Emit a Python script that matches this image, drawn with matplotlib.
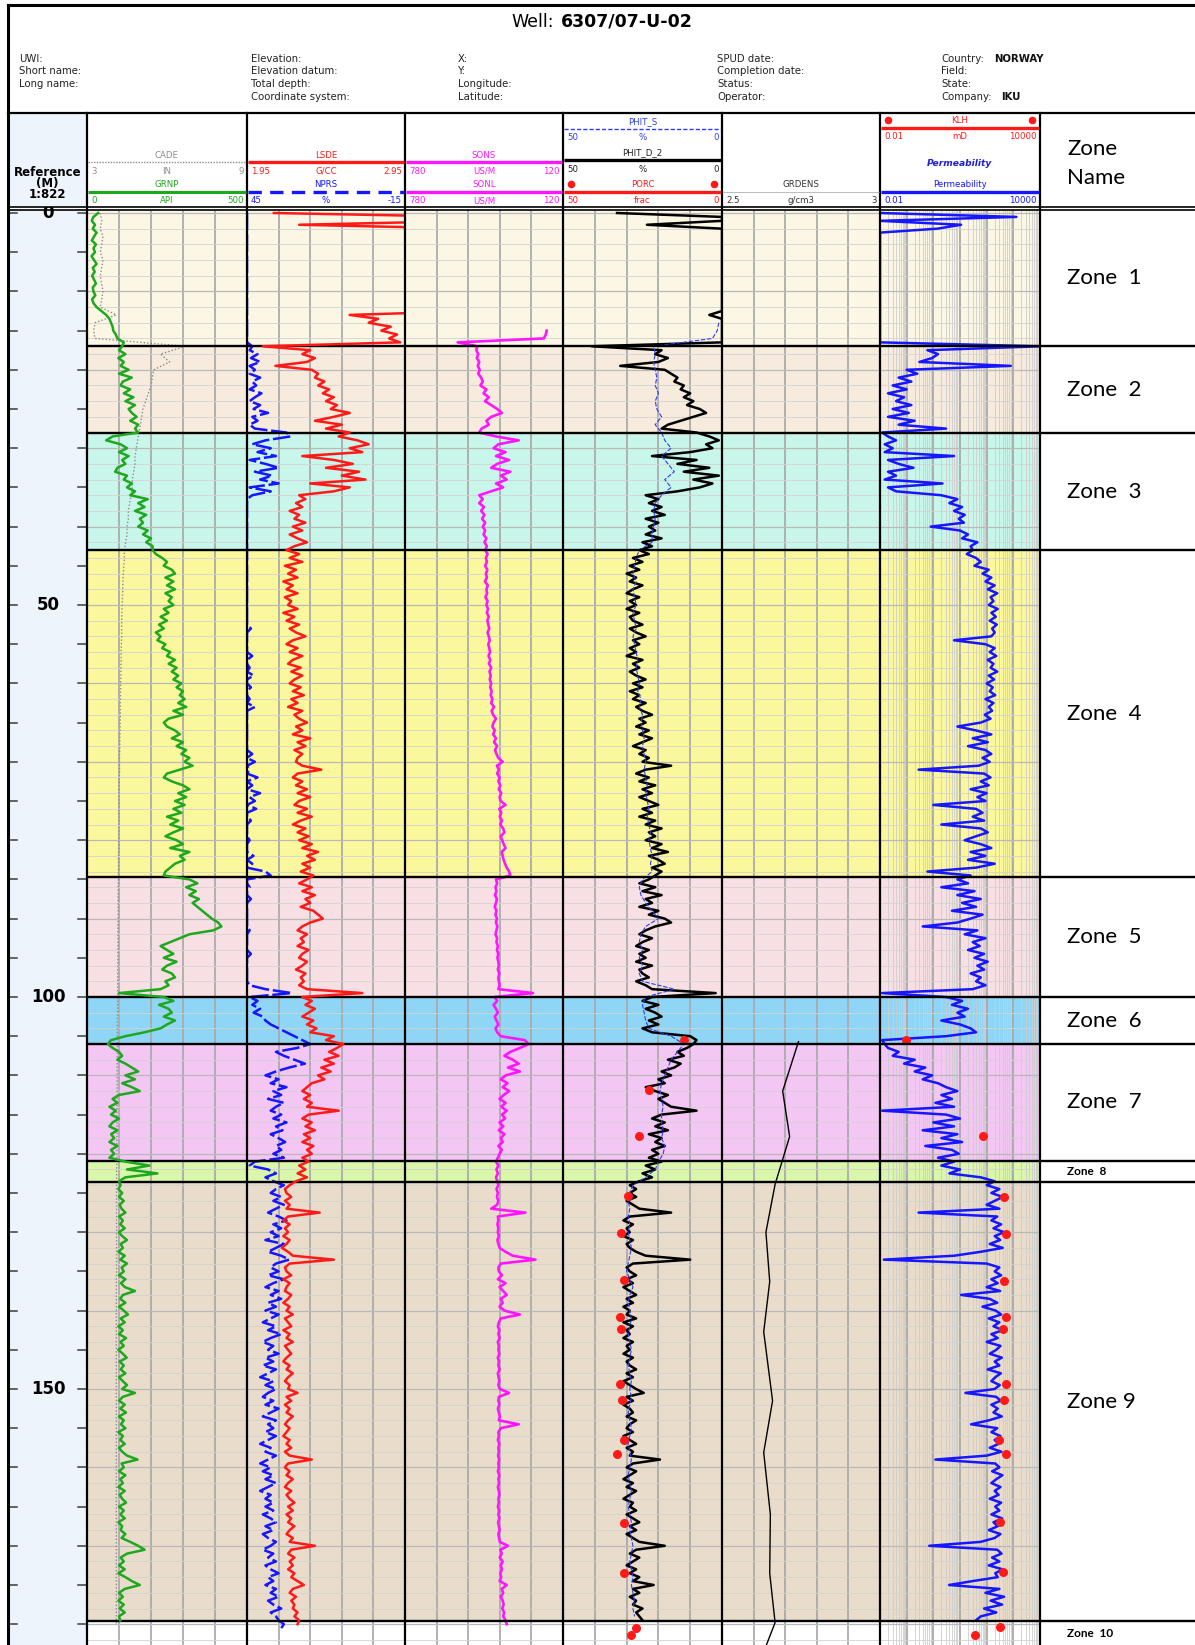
import numpy as np
import matplotlib
matplotlib.use("Agg")
import matplotlib.pyplot as plt
from matplotlib.patches import Rectangle

nan = float("nan")

# ------------------------------------------------------------------ data
WELL_ID = "6307/07-U-02"
INFO_COLUMNS = [
    ["UWI:", "Short name:", "Long name:"],
    ["Elevation:", "Elevation datum:", "Total depth:", "Coordinate system:"],
    ["X:", "Y:", "Longitude:", "Latitude:"],
    ["SPUD date:", "Completion date:", "Status:", "Operator:"],
    ["Country:", "Field:", "State:", "Company:"],
]
INFO_BOLD = {"Country:": "NORWAY", "Company:": "IKU"}

ZONE_NAMES = ["Zone  1", "Zone  2", "Zone  3", "Zone  4", "Zone  5", "Zone  6",
              "Zone  7", "Zone  8", "Zone 9", "Zone  10"]
ZONE_TOPS = [0.0, 17.0, 28.1, 43.0, 84.7, 100.0, 106.0, 120.9, 123.6, 179.6]
ZONE_COLORS = ["#fcf7e4", "#f6ebdc", "#c8f6ea", "#fbf79c", "#f8dfe3",
               "#8fd6f6", "#f3c6f3", "#daf6aa", "#e9dccb", "#ffffff"]
DEPTH_LABELS = [0, 50, 100, 150]

STEP = 0.5      # sampling of the densely sampled logs (m)
STEP_1M = 1.0   # sampling of CADE and PHIT_S (m)

GRNP = [  # API, 0.5 m
    35, 20, 15, 25, 18, 30, 22, 15, 28, 20,
    25, 14, 22, 30, 18, 24, 16, 22, 28, 18,
    20, 26, 16, 20, 30, 45, 60, 70, 75, 80,
    82, 90, 95, 115, 110, 100, 120, 98, 115, 105,
    130, 100, 140, 112, 105, 135, 115, 145, 120, 150,
    130, 140, 155, 135, 160, 150, 160, 80, 60, 105,
    125, 100, 130, 110, 120, 95, 88, 125, 115, 140,
    125, 150, 135, 190, 160, 180, 150, 185, 165, 175,
    160, 190, 175, 200, 185, 205, 205, 215, 235, 250,
    240, 265, 275, 245, 270, 250, 275, 245, 265, 255,
    270, 240, 255, 230, 250, 225, 240, 215, 230, 220,
    245, 235, 260, 250, 275, 255, 280, 265, 285, 270,
    295, 280, 300, 290, 305, 285, 310, 270, 300, 255,
    240, 250, 275, 290, 265, 300, 280, 310, 295, 320,
    305, 330, 290, 250, 240, 265, 300, 320, 285, 310,
    275, 305, 270, 295, 250, 285, 260, 300, 270, 245,
    280, 300, 260, 320, 290, 305, 275, 260, 245, 240,
    320, 345, 310, 340, 320, 350, 330, 345, 360, 375,
    390, 410, 420, 395, 320, 290, 260, 230, 250, 270,
    240, 280, 250, 235, 265, 275, 245, 255, 230, 100,
    240, 270, 225, 255, 265, 240, 275, 250, 230, 180,
    120, 75, 65, 80, 100, 110, 95, 120, 140, 160,
    120, 150, 110, 140, 165, 100, 80, 95, 70, 90,
    75, 100, 80, 70, 95, 75, 85, 70, 95, 75,
    85, 70, 120, 195, 125, 220, 120, 100, 105, 98,
    110, 100, 115, 102, 108, 120, 100, 112, 104, 118,
    100, 110, 125, 105, 112, 98, 118, 104, 125, 108,
    115, 100, 120, 106, 118, 150, 112, 104, 120, 100,
    115, 128, 105, 118, 98, 112, 100, 122, 104, 115,
    98, 112, 124, 102, 115, 105, 120, 100, 112, 125,
    110, 150, 112, 100, 118, 104, 122, 100, 115, 106,
    120, 98, 112, 104, 118, 100, 110, 125, 158, 108,
    115, 100, 120, 104, 112, 98, 118, 102, 110, 122,
    100, 115, 104, 118, 98, 110, 105, 120, 108, 135,
    160, 180, 125, 105, 115, 100, 118, 98, 120, 140,
    165, 118, 100, 112, 98, 115, 102, 118, 100, 104,
]

CADE = [  # inch, 1 m
    3.5, 3.55, 3.5, 3.6, 3.55, 3.5, 3.6, 3.55, 3.5, 3.55,
    3.6, 3.55, 3.5, 4.1, 3.3, 3.25, 3.3, 6.7, 5.75, 6.1,
    5.5, 5.45, 5.4, 5.3, 5.2, 5.1, 5.05, 5.0, 4.95, 4.9,
    4.85, 4.8, 4.8, 4.75, 4.7, 4.7, 4.65, 4.6, 4.55, 4.55,
    4.5, 4.5, 4.45, 4.4, 4.4, 4.38, 4.36, 4.35, 4.34, 4.33,
    4.32, 4.31, 4.3, 4.3, 4.3, 4.29, 4.28, 4.28, 4.27, 4.27,
    4.26, 4.26, 4.25, 4.25, 4.25, 4.24, 4.24, 4.23, 4.23, 4.22,
    4.22, 4.22, 4.21, 4.21, 4.2, 4.2, 4.2, 4.2, 4.2, 4.19,
    4.19, 4.19, 4.18, 4.18, 4.18, 4.18, 4.17, 4.17, 4.17, 4.17,
    4.17, 4.16, 4.16, 4.16, 4.16, 4.16, 4.15, 4.15, 4.15, 4.15,
    4.15, 4.15, 4.15, 4.14, 4.14, 4.14, 4.14, 4.14, 4.13, 4.13,
    4.13, 4.13, 4.13, 4.13, 4.12, 4.12, 4.12, 4.12, 4.12, 4.12,
    4.12, 4.12, 4.11, 4.11, 4.11, 4.11, 4.11, 4.11, 4.11, 4.11,
    4.11, 4.11, 4.11, 4.11, 4.11, 4.11, 4.1, 4.1, 4.1, 4.1,
    4.1, 4.1, 4.1, 4.1, 4.1, 4.1, 4.1, 4.1, 4.1, 4.1,
    4.1, 4.1, 4.1, 4.1, 4.1, 4.1, 4.1, 4.1, 4.1, 4.1,
    4.1, 4.1, 4.1, 4.1, 4.1, 4.1, 4.1, 4.1, 4.1, 4.1,
    4.1, 4.1, 4.1, 4.1, 4.1, 4.1, 4.1, 4.1, 4.1, 4.1,
    4.1,
]

LSDE = [  # g/cc, 0.5 m (values above 2.95 run off the track)
    2.12, 3.4, 3.4, 2.28, 3.4, 3.4, 3.4, 3.4, 3.4, 3.4,
    3.4, 3.4, 3.4, 3.4, 3.4, 3.4, 3.4, 3.4, 3.4, 3.4,
    3.4, 3.4, 3.4, 3.4, 3.4, 3.4, 2.6, 2.78, 2.72, 2.86,
    2.8, 2.9, 2.85, 2.92, 2.05, 2.35, 2.3, 2.38, 2.33, 2.13,
    2.36, 2.4, 2.38, 2.44, 2.4, 2.47, 2.43, 2.5, 2.45, 2.52,
    2.48, 2.6, 2.5, 2.38, 2.55, 2.45, 2.6, 2.53, 2.65, 2.72,
    2.6, 2.68, 2.3, 2.5, 2.62, 2.45, 2.66, 2.55, 2.7, 2.35,
    2.6, 2.5, 2.28, 2.32, 2.26, 2.3, 2.22, 2.28, 2.25, 2.32,
    2.24, 2.3, 2.22, 2.27, 2.33, 2.25, 2.2, 2.28, 2.22, 2.3,
    2.19, 2.26, 2.21, 2.27, 2.18, 2.24, 2.2, 2.27, 2.19, 2.23,
    2.21, 2.27, 2.18, 2.25, 2.2, 2.28, 2.22, 2.26, 2.32, 2.24,
    2.2, 2.27, 2.22, 2.3, 2.24, 2.21, 2.29, 2.23, 2.3, 2.25,
    2.22, 2.29, 2.24, 2.31, 2.23, 2.27, 2.21, 2.3, 2.25, 2.28,
    2.33, 2.26, 2.3, 2.24, 2.35, 2.27, 2.32, 2.25, 2.3, 2.27,
    2.26, 2.3, 2.42, 2.27, 2.24, 2.3, 2.26, 2.33, 2.27, 2.35,
    2.28, 2.25, 2.33, 2.27, 2.36, 2.29, 2.24, 2.32, 2.27, 2.34,
    2.28, 2.36, 2.3, 2.4, 2.33, 2.38, 2.3, 2.35, 2.29, 2.37,
    2.33, 2.28, 2.36, 2.3, 2.38, 2.32, 2.35, 2.29, 2.37, 2.4,
    2.43, 2.35, 2.3, 2.27, 2.33, 2.29, 2.31, 2.27, 2.34, 2.3,
    2.28, 2.33, 2.3, 2.26, 2.32, 2.29, 2.31, 2.28, 2.33, 2.68,
    2.3, 2.36, 2.32, 2.38, 2.34, 2.3, 2.37, 2.33, 2.39, 2.35,
    2.5, 2.45, 2.56, 2.52, 2.47, 2.53, 2.44, 2.5, 2.42, 2.48,
    2.4, 2.44, 2.36, 2.33, 2.3, 2.35, 2.31, 2.36, 2.33, 2.53,
    2.34, 2.3, 2.36, 2.32, 2.38, 2.31, 2.35, 2.3, 2.37, 2.33,
    2.36, 2.3, 2.34, 2.28, 2.32, 2.27, 2.33, 2.26, 2.22, 2.19,
    2.2, 2.23, 2.19, 2.22, 2.2, 2.41, 2.21, 2.18, 2.22, 2.19,
    2.21, 2.18, 2.22, 2.2, 2.17, 2.21, 2.24, 2.5, 2.22, 2.19,
    2.2, 2.23, 2.18, 2.22, 2.2, 2.19, 2.23, 2.21, 2.18, 2.22,
    2.2, 2.24, 2.19, 2.21, 2.23, 2.18, 2.22, 2.2, 2.24, 2.19,
    2.21, 2.23, 2.2, 2.18, 2.22, 2.2, 2.24, 2.21, 2.19, 2.22,
    2.21, 2.27, 2.2, 2.23, 2.19, 2.22, 2.2, 2.24, 2.21, 2.19,
    2.22, 2.2, 2.18, 2.22, 2.2, 2.23, 2.19, 2.22, 2.36, 2.21,
    2.19, 2.22, 2.2, 2.24, 2.21, 2.19, 2.23, 2.2, 2.22, 2.25,
    2.21, 2.24, 2.2, 2.23, 2.21, 2.25, 2.22, 2.2, 2.24, 2.22,
    2.38, 2.23, 2.21, 2.25, 2.22, 2.24, 2.21, 2.25, 2.23, 2.27,
    2.31, 2.24, 2.22, 2.26, 2.23, 2.25, 2.24, 2.27, 2.25, 2.28,
    2.27,
]

NPRS = [  # %, 0.5 m
    45, 45, 45, 45, 45, 45, 45, 45, 45, 45,
    45, 45, 45, 45, 45, 45, 45, 45, 45, 45,
    45, 45, 45, 45, 45, 45, 45, 45, 45, 45,
    45, 45, 45, 45, 43, 44, 41, 43.5, 40, 44,
    42, 44, 40, 43, 41.5, 44, 39.5, 42, 44, 40,
    42.5, 37, 43, 41, 44, 42, 30, 28.5, 38, 43,
    36, 41, 34, 44, 38, 33, 42, 35.5, 40, 33,
    44, 36, 43, 45, 45, 45, 45, 45, 45, 45,
    45, 45, 45, 45, 45, 45, 45, 45, 45, 45,
    45, 45, 45, 45, 45, 45, 45, 45, 45, 45,
    45, 45, 45, 45, 45, 45, 43.5, 45, 45, 45,
    45, 45, 45, 43, 45, 45, 44, 45, 42.5, 45,
    45, 43.5, 45, 45, 44, 45, 42, 45, 45, 45,
    45, 45, 45, 45, 45, 45, 45, 45, 43, 45,
    42, 45, 44, 45, 41, 45, 43, 45, 40, 44,
    42, 45, 41.5, 45, 45, 43.5, 45, 45, 45, 45,
    44, 45, 45, 45, 42.5, 45, 43, 45, 38, 36,
    45, 45, 44, 45, 45, 43.5, 45, 45, 45, 45,
    45, 45, 45, 44, 45, 45, 45, 45, 45, 43.5,
    45, 45, 45, 45, 45, 45, 45, 44, 38, 28,
    44, 41, 43, 40, 42.5, 39, 38, 36, 33, 30,
    27, 24, 21, 26, 34, 31, 27, 23, 29, 34,
    38, 33, 36, 30, 35, 32, 37, 31, 34, 36,
    32, 35, 30, 34, 31.5, 36, 33, 30.5, 34, 32,
    35, 31, 42, 44, 37, 34, 38, 35, 31, 34,
    36, 32, 35, 31, 34, 37, 33, 30, 35, 32,
    36, 33, 38, 31, 34, 37, 32, 29, 34, 36,
    33, 37, 31, 35, 38, 33, 36, 32, 37, 34,
    38, 33, 36, 39, 34, 37, 32, 36, 39, 35,
    37, 33, 38, 35, 39, 34, 37, 40, 35, 38,
    34, 37, 39, 35, 38, 33, 36, 39, 34, 37,
    35, 38, 34, 37, 40, 36, 38, 34, 37, 40,
    36, 39, 35, 38, 34, 37, 40, 36, 38, 35,
    38, 35, 39, 36, 34, 38, 35, 39, 37, 34,
    36, 39, 35, 37, 34, 38, 36, 33, 37, 35,
    38, 34, 36, 33, 37, 35, 32, 36, 34, 33,
    31, 32,
]

SONS = [  # us/m, 0.5 m
    nan, nan, nan, nan, nan, nan, nan, nan, nan, nan,
    nan, nan, nan, nan, nan, nan, nan, nan, nan, nan,
    nan, nan, nan, nan, nan, nan, nan, nan, nan, nan,
    188, 192, 200, 560, 478, 482, 474, 480, 470, 476,
    468, 474, 462, 455, 465, 440, 452, 430, 446, 420,
    395, 375, 420, 440, 430, 460, 470, 400, 305, 390,
    410, 360, 400, 345, 395, 420, 340, 380, 355, 400,
    370, 420, 470, 455, 470, 450, 462, 448, 458, 445,
    455, 445, 452, 440, 448, 438, 445, 435, 442, 438,
    445, 436, 442, 438, 446, 434, 440, 437, 444, 435,
    440, 433, 438, 430, 436, 432, 428, 435, 430, 426,
    432, 428, 425, 431, 424, 429, 420, 427, 422, 426,
    420, 424, 418, 422, 415, 420, 408, 418, 412, 400,
    410, 415, 405, 412, 400, 408, 395, 404, 398, 390,
    372, 396, 388, 395, 385, 390, 382, 388, 378, 385,
    380, 360, 386, 378, 384, 375, 382, 370, 365, 380,
    374, 368, 360, 376, 372, 368, 362, 355, 345, 340,
    400, 395, 402, 398, 404, 396, 400, 405, 398, 402,
    396, 400, 394, 398, 402, 395, 398, 392, 396, 390,
    394, 390, 388, 392, 386, 390, 388, 385, 390, 245,
    405, 395, 410, 400, 392, 405, 398, 390, 402, 395,
    380, 280, 263, 300, 340, 365, 330, 305, 350, 300,
    360, 380, 352, 372, 345, 368, 385, 360, 378, 355,
    375, 362, 385, 370, 388, 365, 380, 372, 390, 376,
    385, 392, 400, 390, 398, 392, 400, 394, 390, 398,
    392, 396, 390, 395, 420, 277, 392, 390, 394, 390,
    392, 388, 394, 390, 385, 360, 330, 235, 380, 390,
    388, 375, 392, 360, 385, 370, 355, 380, 372, 385,
    365, 300, 380, 388, 392, 386, 390, 385, 392, 388,
    390, 386, 392, 388, 390, 385, 392, 389, 386, 390,
    384, 345, 388, 390, 386, 392, 388, 384, 388, 305,
    380, 390, 388, 392, 386, 390, 388, 391, 387, 390,
    388, 392, 386, 390, 387, 392, 388, 386, 390, 388,
    392, 387, 390, 386, 391, 388, 385, 390, 387, 384,
    350, 382, 376, 384, 372, 380, 375, 382, 378, 385,
    355, 376, 370, 380, 372, 368, 374, 366, 370, 360,
    355,
]

PHIT_D_2 = [  # %, 0.5 m
    33, 0, 0, 23.6, 0, 0, 0, 0, 0, 0,
    0, 0, 0, 0, 0, 0, 0, 0, 0, 0,
    0, 0, 0, 0, 0, 0, 4, 0, 0, 0,
    0, 0, 0, 0, 41, 19, 21, 17, 20, 32,
    18, 16, 14, 15, 12, 13, 10, 12, 9, 11,
    7, 5, 9, 13, 17, 19, 8, 4, 1, 5,
    3, 10, 22, 8, 14, 4, 12, 1, 9, 3,
    7, 14, 24, 20, 23, 19, 22, 18, 24, 20,
    23, 21, 24, 19, 25, 22, 26, 23, 28, 25,
    29, 26, 30, 27, 29, 25, 28, 30, 26, 29,
    27, 30, 26, 29, 28, 25, 29, 27, 24, 28,
    26, 29, 27, 30, 25, 28, 26, 29, 27, 24,
    28, 25, 29, 26, 28, 24, 27, 25, 22, 26,
    24, 27, 23, 26, 22, 25, 28, 24, 26, 23,
    25, 16, 24, 27, 23, 26, 21, 25, 22, 26,
    23, 20, 25, 22, 26, 21, 24, 19, 23, 21,
    24, 19, 22, 17, 23, 20, 18, 22, 19, 21,
    23, 26, 21, 25, 19, 24, 22, 26, 20, 23,
    18, 16, 21, 24, 26, 22, 25, 27, 23, 26,
    24, 27, 22, 26, 25, 23, 27, 24, 22, 2,
    22, 25, 20, 24, 21, 19, 23, 20, 25, 22,
    10, 8, 9, 11, 14, 12, 17, 13, 15, 19,
    16, 20, 18, 24, 21, 17, 20, 18, 16, 8,
    19, 22, 18, 21, 17, 23, 19, 21, 18, 22,
    20, 23, 19, 24, 21, 25, 22, 26, 29, 27,
    29, 27, 30, 28, 26, 16, 29, 31, 28, 30,
    29, 31, 28, 30, 29, 27, 24, 10, 28, 30,
    29, 27, 30, 28, 31, 29, 27, 30, 28, 31,
    29, 30, 27, 31, 28, 30, 29, 31, 28, 30,
    29, 31, 28, 30, 29, 27, 30, 28, 31, 29,
    27, 24.6, 30, 28, 31, 29, 28, 30, 27, 29,
    30, 28, 31, 29, 27, 30, 28, 29, 19.5, 28,
    30, 27, 29, 31, 28, 30, 27, 29, 31, 28,
    29, 27, 30, 28, 26, 29, 27, 30, 28, 26,
    18, 27, 29, 26, 28, 30, 27, 29, 26, 28,
    21.5, 28, 26, 29, 27, 28, 25, 27, 26, 25,
]

PHIT_S = [  # %, 1 m
    nan, nan, nan, nan, nan, nan, nan, nan, nan, nan,
    nan, nan, nan, nan, 1.0, 1.5, 3.0, 21.5, 21.0, 21.5,
    21, 20.5, 21, 20, 21, 20.5, 19, 21, 19, 18,
    16, 19, 17, 15, 18, 16, 19, 21, 21.5, 21,
    21.5, 22, 22, 26, 27, 27.5, 28, 27, 28, 27.5,
    27, 28, 27.5, 27, 28, 27.5, 27, 26.5, 27, 26.5,
    26, 26.5, 25.5, 26, 25, 25.5, 25, 24.5, 25, 24.5,
    24, 24.5, 24, 23.5, 24, 23.5, 23, 23.5, 23, 22.5,
    23, 22.5, 22, 22.5, 22, 25, 26, 25.5, 24, 22,
    20, 24, 25.5, 26, 25, 26, 25, 26, 25, 15,
    24, 25, 24.5, 24, 23, 16, 12, 14, 16, 17,
    18, 19, 19.5, 19, 18.5, 19, 19, 18.5, 19, 18,
    18.5, 20, 21, 24, 28, 29, 29.5, 29, 29.5, 29,
    29.5, 29, 28.5, 29, 29.5, 30, 29, 28, 29, 29.5,
    29, 28.5, 29, 29.5, 29, 28.5, 29, 29.5, 29, 28.5,
    29, 28.5, 29, 29.5, 29, 28.5, 29, 29.5, 29, 28.5,
    29, 29.5, 29, 28.5, 29, 29.5, 29, 28.5, 29, 28.5,
    28, 28.5, 29, 28.5, 28, 28.5, 28, 27.5, 28, 27.5,
]

PORC_DEPTH = [105.5, 111.9, 117.7, 125.4, 130.1, 136.1, 140.8, 142.3,
              149.3, 151.4, 156.5, 158.3, 167.1, 173.5, 180.5, 181.4]
PORC = [12.1, 23.0, 26.0, 29.6, 31.7, 30.9, 32.0, 31.7,
        32.0, 31.4, 30.9, 33.0, 30.9, 30.9, 27.0, 28.6]

GRDENS_DEPTH = [105.7, 112.0, 117.8, 123.9, 130.0, 136.3, 142.7, 151.5,
                158.1, 166.0, 173.5, 179.8, 182.7]
GRDENS = [2.742, 2.692, 2.714, 2.668, 2.639, 2.651, 2.632, 2.660,
          2.632, 2.653, 2.651, 2.668, 2.640]

PERM = [  # mD, 0.5 m
    0.01, 1300, 0.01, 11, 1.4, 0.01, 0.01, 0.01, 0.01, 0.01,
    0.01, 0.01, 0.01, 0.01, 0.01, 0.01, 0.01, 0.01, 0.01, 0.01,
    0.01, 0.01, 0.01, 0.01, 0.01, 0.01, 0.01, 0.01, 0.01, 0.01,
    0.01, 0.01, 0.01, 0.01, 10000, 0.6, 1.5, 0.9, 0.3, 800,
    0.1, 0.25, 0.05, 0.15, 0.03, 0.1, 0.02, 0.08, 0.04, 0.15,
    0.03, 0.12, 0.02, 0.2, 0.05, 3, 0.012, 0.02, 0.04, 0.015,
    0.03, 0.015, 6, 0.02, 0.05, 0.18, 0.02, 0.04, 0.015, 2.2,
    0.02, 0.04, 2, 8, 4, 12, 6, 15, 9, 14,
    0.8, 10, 20, 12, 45, 25, 30, 18, 40, 60,
    35, 120, 70, 150, 90, 200, 110, 250, 140, 180,
    120, 260, 150, 220, 130, 240, 160, 200, 150, 6,
    90, 200, 130, 230, 110, 180, 140, 250, 120, 190,
    100, 170, 130, 210, 90, 180, 120, 160, 85, 140,
    60, 8, 40, 150, 30, 110, 20, 90, 150, 70,
    130, 50, 0.28, 80, 140, 60, 120, 25, 100, 45,
    90, 1, 40, 70, 30, 80, 2, 60, 110, 40,
    15, 60, 150, 25, 90, 20, 200, 40, 0.6, 25,
    8, 20, 2, 35, 8, 60, 12, 40, 5, 70,
    25, 8, 0.4, 45, 15, 90, 30, 55, 20, 80,
    35, 110, 45, 80, 25, 60, 40, 90, 30, 0.012,
    3, 12, 5, 20, 8, 15, 2, 10, 25, 40,
    3, 0.012, 0.015, 0.02, 0.05, 0.03, 0.2, 0.08, 0.5, 0.2,
    0.9, 0.4, 1.5, 3, 8, 2, 5, 1.2, 6, 0.012,
    3, 10, 1, 6, 0.4, 8, 2, 12, 0.5, 5,
    9, 1.5, 6, 2, 10, 4, 60, 200, 100, 300,
    150, 400, 200, 100, 300, 0.28, 250, 150, 350, 180,
    450, 200, 320, 130, 400, 60, 6, 0.014, 100, 300,
    200, 350, 150, 260, 100, 320, 11, 130, 250, 70,
    220, 350, 120, 300, 180, 400, 150, 260, 100, 330,
    230, 130, 370, 200, 300, 110, 340, 210, 150, 310,
    200, 16, 230, 330, 150, 260, 180, 370, 120, 26,
    250, 150, 330, 200, 280, 130, 360, 100, 1.2, 210,
    300, 160, 390, 230, 150, 330, 200, 280, 130, 350,
    210, 300, 150, 380, 180, 260, 120, 330, 200, 60,
    0.7, 250, 360, 160, 300, 120, 400, 210, 260, 30,
    3.9, 300, 90, 450, 140, 380, 80, 230, 60, 40,
]

KLH_DEPTH = [105.5, 117.7, 125.5, 130.2, 136.2, 140.8, 142.3, 149.3,
             151.4, 156.5, 158.3, 167.0, 173.4, 180.4, 181.4]
KLH = [0.096, 75, 430, 525, 430, 525, 400, 525,
       430, 300, 525, 330, 410, 320, 35]

# ------------------------------------------------------------------ layout
W, H = 1195, 1645
PX_PER_M = 7.84
Y_DEPTH0 = 213.0
Y_DATA_TOP = 210.0
D_TOP = (Y_DATA_TOP - Y_DEPTH0) / PX_PER_M
D_BOT = (H - Y_DEPTH0) / PX_PER_M
TRACK_X = [87, 247, 405, 563, 722, 880, 1040]

GREEN = "#1ea81e"
RED = "#ff1a1a"
BLUE = "#1616ff"
BLUE_T = "#2f3cf0"
MAG = "#ff16ff"
GRAY = "#8c8c8c"

fig = plt.figure(figsize=(W / 100, H / 100), dpi=100)
fig.patch.set_facecolor("white")


def frac_rect(x0, y0, x1, y1):
    return [x0 / W, 1 - y1 / H, (x1 - x0) / W, (y1 - y0) / H]


def clean(ax):
    for s in ax.spines.values():
        s.set_visible(False)
    ax.tick_params(which="both", bottom=False, top=False, left=False, right=False,
                   labelbottom=False, labeltop=False, labelleft=False, labelright=False)


def depths(values, step):
    return np.arange(len(values)) * step


def zone_spans():
    tops = [D_TOP] + ZONE_TOPS[1:]
    bots = ZONE_TOPS[1:] + [D_BOT]
    return list(zip(tops, bots, ZONE_COLORS))


def hgrid(ax):
    for d in np.arange(0, D_BOT, 2):
        ax.axhline(d, color="#d3d3d3", lw=0.6, zorder=1)
    for d in np.arange(0, D_BOT, 10):
        ax.axhline(d, color="#b9b9b9", lw=0.9, zorder=1)


def boundaries(ax):
    for t in ZONE_TOPS[1:]:
        ax.axhline(t, color="black", lw=1.7, zorder=6)


def track(i, xlim, log=False):
    ax = fig.add_axes(frac_rect(TRACK_X[i], Y_DATA_TOP, TRACK_X[i + 1], H))
    if log:
        ax.set_xscale("log")
    ax.set_xlim(*xlim)
    ax.set_ylim(D_BOT, D_TOP)
    clean(ax)
    for t, b, c in zone_spans():
        ax.axhspan(t, b, color=c, lw=0, zorder=0)
    if log:
        lo, hi = np.log10(xlim[0]), np.log10(xlim[1])
        for e in range(int(lo), int(hi)):
            for m in range(2, 10):
                ax.axvline(m * 10.0 ** e, color="#cdcdcd", lw=0.6, zorder=1)
        for e in range(int(lo) + 1, int(hi)):
            ax.axvline(10.0 ** e, color="#a9a9a9", lw=1.3, zorder=1)
    else:
        for x in np.linspace(xlim[0], xlim[1], 6)[1:-1]:
            ax.axvline(x, color="#ababab", lw=1.3, zorder=1)
    hgrid(ax)
    boundaries(ax)
    return ax


def twin(ax, xlim):
    t = ax.twiny()
    t.set_xlim(*xlim)
    t.set_ylim(D_BOT, D_TOP)
    clean(t)
    return t


# Track 1: CADE + GRNP
ax1 = track(0, (3, 9))
ax1.plot(CADE, depths(CADE, STEP_1M), color=GRAY, lw=1.0, ls=(0, (1, 1.5)), zorder=3)
ax1g = twin(ax1, (0, 500))
ax1g.plot(GRNP, depths(GRNP, STEP), color=GREEN, lw=1.8, zorder=4)

# Track 2: NPRS + LSDE
ax2 = track(1, (45, -15))
ax2.plot(NPRS, depths(NPRS, STEP), color=BLUE, lw=1.8, ls=(0, (7, 1.5)), zorder=3)
ax2r = twin(ax2, (1.95, 2.95))
ax2r.plot(LSDE, depths(LSDE, STEP), color=RED, lw=1.8, zorder=4)

# Track 3: SONS
ax3 = track(2, (780, 120))
ax3.plot(SONS, depths(SONS, STEP), color=MAG, lw=1.9, zorder=4)

# Track 4: porosity
ax4 = track(3, (50, 0))
ax4.plot(PHIT_D_2, depths(PHIT_D_2, STEP), color="black", lw=1.8, zorder=3)
ax4.plot(PHIT_S, depths(PHIT_S, STEP_1M), color=BLUE_T, lw=0.8, ls=(0, (4, 1.5)), zorder=4)
ax4.plot(PORC, PORC_DEPTH, "o", color=RED, ms=6.5, mec="none", zorder=5)

# Track 5: GRDENS
ax5 = track(4, (2.5, 3.0))
ax5.plot(GRDENS, GRDENS_DEPTH, color="black", lw=1.0, zorder=4)

# Track 6: permeability
ax6 = track(5, (0.01, 10000), log=True)
ax6.plot(PERM, depths(PERM, STEP), color=BLUE, lw=1.8, zorder=3)
ax6.plot(KLH, KLH_DEPTH, "o", color=RED, ms=6.5, mec="none", zorder=5)

# Depth column
axd = fig.add_axes(frac_rect(8, Y_DATA_TOP, TRACK_X[0], H))
axd.set_xlim(8, TRACK_X[0])
axd.set_ylim(D_BOT, D_TOP)
axd.set_facecolor("#eef4fb")
clean(axd)
for d in np.arange(0, D_BOT, 5):
    axd.plot([8, 17], [d, d], color="#3c3c3c", lw=1.1)
    axd.plot([78, 87], [d, d], color="#3c3c3c", lw=1.1)
for d in DEPTH_LABELS:
    axd.text(48, d, str(d), ha="center", va="center", fontsize=12,
             fontweight="bold", clip_on=False)

# Zone name column
axz = fig.add_axes(frac_rect(TRACK_X[-1], Y_DATA_TOP, W, H))
axz.set_xlim(TRACK_X[-1], W)
axz.set_ylim(D_BOT, D_TOP)
axz.set_facecolor("white")
clean(axz)
boundaries(axz)
for (t, b, c), name in zip(zone_spans(), ZONE_NAMES):
    thin = (b - t) < 4
    axz.text(1067, (t + b) / 2, name, ha="left", va="center",
             fontsize=8.5 if thin else 16, fontweight="bold" if thin else "normal",
             family="Lato")

# ------------------------------------------------------------------ header overlay
ov = fig.add_axes([0, 0, 1, 1])
ov.set_zorder(10)
ov.set_xlim(0, W)
ov.set_ylim(H, 0)
ov.axis("off")

ov.add_patch(Rectangle((8, 113), TRACK_X[0] - 8, 94, color="#eef4fb", lw=0, zorder=0))
K = "black"
ov.plot([8, W], [5, 5], color=K, lw=2.2)
ov.plot([8, 8], [5, H], color=K, lw=2.2)
ov.plot([8, W], [113, 113], color=K, lw=1.6)
ov.plot([8, W], [206.5, 206.5], color=K, lw=1.2)
ov.plot([8, W], [210, 210], color=K, lw=1.2)
for x in TRACK_X:
    ov.plot([x, x], [113, H], color=K, lw=1.6)

ov.text(554, 22, "Well:", ha="right", va="center", fontsize=12.5)
ov.text(561, 22, WELL_ID, ha="left", va="center", fontsize=12.5, fontweight="bold")

INFO_X = [19, 251, 458, 717, 941]
INFO_Y = [59, 71.5, 84, 96.5]
for x, col in zip(INFO_X, INFO_COLUMNS):
    for y, label in zip(INFO_Y, col):
        ov.text(x, y, label, ha="left", va="center", fontsize=7.3, color="#222222")
        if label in INFO_BOLD:
            off = 53 if label == "Country:" else 60
            ov.text(x + off, y, INFO_BOLD[label], ha="left", va="center",
                    fontsize=7.3, fontweight="bold", color="#111111")


def group(x0, x1, y, name, col, lo, unit, hi, line=None, dots=False, fs=6.2):
    cx = (x0 + x1) / 2
    ov.text(cx, y, name, color=col, ha="center", va="center", fontsize=fs)
    if line is not None:
        ls, lw, lc = line
        ov.plot([x0 + 1, x1 - 1], [y + 7, y + 7], color=lc, lw=lw, ls=ls,
                solid_capstyle="butt")
        if dots:
            ov.plot([x0 + 8, x1 - 8], [y - 1, y - 1], "o", color=lc, ms=5.5, mec="none")
    ov.text(x0 + 4, y + 16, lo, color=col, ha="left", va="center", fontsize=fs)
    ov.text(cx, y + 16, unit, color=col, ha="center", va="center", fontsize=fs)
    ov.text(x1 - 3, y + 16, hi, color=col, ha="right", va="center", fontsize=fs)


X = TRACK_X
group(X[0], X[1], 155, "CADE", GRAY, "3", "IN", "9", line=((0, (1, 1)), 1.0, GRAY))
group(X[0], X[1], 184.5, "GRNP", GREEN, "0", "API", "500", line=("-", 2.2, GREEN))
group(X[1], X[2], 155, "LSDE", RED, "1.95", "G/CC", "2.95", line=("-", 2.4, RED))
group(X[1], X[2], 184.5, "NPRS", BLUE, "45", "%", "-15", line=((0, (4, 2.5)), 2.4, BLUE))
group(X[2], X[3], 155, "SONS", MAG, "780", "US/M", "120", line=("-", 2.4, MAG))
group(X[2], X[3], 184.5, "SONL", MAG, "780", "US/M", "120", line=("-", 2.4, MAG))
group(X[3], X[4], 122, "PHIT_S", BLUE_T, "50", "%", "0", line=((0, (3, 1.5)), 1.0, BLUE_T))
group(X[3], X[4], 153, "PHIT_D_2", "#222222", "50", "%", "0", line=("-", 2.4, "black"))
group(X[3], X[4], 184.5, "PORC", RED, "50", "frac", "0", line=("-", 2.4, RED), dots=True)
group(X[4], X[5], 184.5, "GRDENS", "#333333", "2.5", "g/cm3", "3", line=("-", 0.6, "#b0b0b0"))
group(X[5], X[6], 120.5, "KLH", RED, "0.01", "mD", "10000", line=("-", 2.4, RED), dots=True)
ov.text((X[5] + X[6]) / 2, 163, "Permeability", color="#2020d0", ha="center", va="center",
        fontsize=6.6, fontweight="bold", style="italic")
group(X[5], X[6], 184.5, "Permeability", BLUE, "0.01", "", "10000", line=("-", 2.4, BLUE))

for y, s in zip([173, 184, 195], ["Reference", "(M)", "1:822"]):
    ov.text(47.5, y, s, ha="center", va="center", fontsize=8.5, fontweight="bold")

ov.text(1067, 149, "Zone", ha="left", va="center", fontsize=16, family="Lato")
ov.text(1067, 178, "Name", ha="left", va="center", fontsize=16, family="Lato")

fig.savefig("out.png", dpi=100)
